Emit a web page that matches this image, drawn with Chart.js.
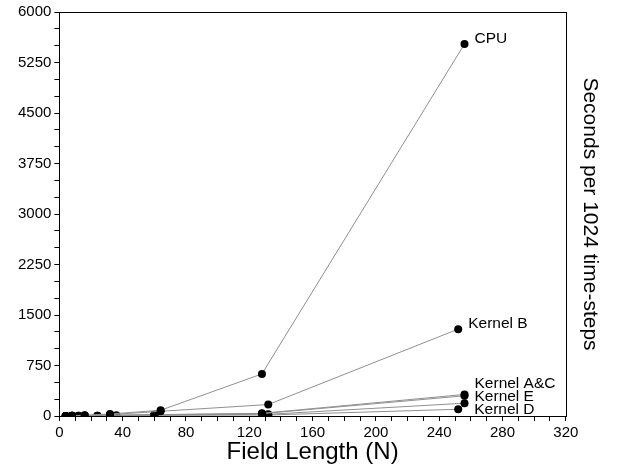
<!DOCTYPE html>
<html>
<head>
<meta charset="utf-8">
<script src="https://cdn.jsdelivr.net/npm/chart.js@4.4.1/dist/chart.umd.min.js"></script>
<style>
  html, body { margin: 0; padding: 0; background: #fff; }
  #wrap { width: 623px; height: 465px; }
</style>
</head>
<body>
<div id="wrap"><canvas id="chart"></canvas></div>
<script>
// Field lengths (N) and seconds per 1024 time-steps
var cpuN = [4, 8, 16, 32, 64, 128, 256];
var cpuSec = [1, 4, 12, 30, 85, 625, 5525];

var kernelBN = [4, 8, 16, 32, 64, 132, 252];
var kernelBSec = [1, 3, 8, 20, 70, 170, 1290];

var kernelAN = [4, 8, 16, 32, 60, 128, 256];
var kernelASec = [1, 2, 5, 10, 20, 40, 320];

var kernelCN = [4, 8, 16, 32, 60, 128, 256];
var kernelCSec = [1, 2, 5, 10, 18, 35, 300];

var kernelEN = [4, 12, 24, 36, 60, 132, 256];
var kernelESec = [1, 2, 4, 8, 15, 25, 190];

var kernelDN = [4, 12, 24, 36, 60, 132, 252];
var kernelDSec = [1, 2, 3, 6, 10, 15, 100];

var seriesNames = ["CPU", "Kernel B", "Kernel A", "Kernel C", "Kernel E", "Kernel D"];
// text written next to the last point of each series ("" = none)
var endLabels = ["CPU", "Kernel B", "Kernel A&C", "", "Kernel E", "Kernel D"];

function pairs(xs, ys) {
  return xs.map(function(x, i) { return { x: x, y: ys[i] }; });
}

var allData = [
  pairs(cpuN, cpuSec),
  pairs(kernelBN, kernelBSec),
  pairs(kernelAN, kernelASec),
  pairs(kernelCN, kernelCSec),
  pairs(kernelEN, kernelESec),
  pairs(kernelDN, kernelDSec)
];

var FONT = "'Liberation Sans', Arial, Helvetica, sans-serif";

// label offsets from the end point, in pixels
var labelOffsets = [[10, -5], [10, -5], [10, -11], [0, 0], [10, -6], [16, 0]];

var endLabelPlugin = {
  id: "endLabels",
  afterDatasetsDraw: function(chart) {
    var ctx = chart.ctx;
    ctx.save();
    ctx.font = "15.5px " + FONT;
    ctx.fillStyle = "#000";
    ctx.textBaseline = "middle";
    ctx.textAlign = "left";
    chart.data.datasets.forEach(function(ds, i) {
      if (!endLabels[i]) return;
      var last = ds.data[ds.data.length - 1];
      var px = chart.scales.x.getPixelForValue(last.x);
      var py = chart.scales.y.getPixelForValue(last.y);
      ctx.fillText(endLabels[i], px + labelOffsets[i][0], py + labelOffsets[i][1]);
    });
    ctx.restore();
  }
};

var framePlugin = {
  id: "frame",
  afterDraw: function(chart) {
    var a = chart.chartArea;
    var ctx = chart.ctx;
    var l = Math.round(a.left) + 0.5, r = Math.round(a.right) + 0.5;
    var t = Math.round(a.top) + 0.5, b = Math.round(a.bottom) + 0.5;
    ctx.save();
    ctx.strokeStyle = "#000";
    ctx.lineWidth = 1;
    ctx.strokeRect(l, t, r - l, b - t);
    ctx.restore();
  }
};

var datasets = allData.map(function(d, i) {
  return {
    label: seriesNames[i],
    data: d,
    borderColor: "#909090",
    borderWidth: 1,
    pointRadius: 4,
    pointBackgroundColor: "#000",
    pointBorderColor: "#000",
    pointBorderWidth: 0,
    showLine: true,
    tension: 0
  };
});

new Chart(document.getElementById("chart"), {
  type: "scatter",
  data: { datasets: datasets },
  options: {
    responsive: true,
    maintainAspectRatio: false,
    animation: false,
    layout: { padding: { left: 15, right: 10, top: 11, bottom: -4 } },
    plugins: {
      legend: { display: false },
      tooltip: { enabled: false }
    },
    scales: {
      x: {
        type: "linear",
        min: 0,
        max: 320,
        border: { display: false },
        grid: {
          drawOnChartArea: false,
          drawTicks: true,
          tickLength: 5,
          tickColor: "#000"
        },
        ticks: {
          stepSize: 10,
          autoSkip: false,
          maxRotation: 0,
          color: "#000",
          padding: 3,
          font: { family: FONT, size: 15 },
          callback: function(v) { return v % 40 === 0 ? String(v) : ""; }
        },
        title: {
          display: true,
          text: "Field Length (N)",
          color: "#000",
          padding: { top: -5, bottom: 5 },
          font: { family: FONT, size: 24, lineHeight: 1 }
        }
      },
      y: {
        type: "linear",
        position: "left",
        min: 0,
        max: 6000,
        border: { display: false },
        grid: {
          drawOnChartArea: false,
          drawTicks: true,
          tickLength: 5,
          tickColor: "#000"
        },
        ticks: {
          stepSize: 250,
          autoSkip: false,
          color: "#000",
          padding: 3,
          font: { family: FONT, size: 15 },
          callback: function(v) { return v % 750 === 0 ? String(v) : ""; }
        }
      },
      yTitle: {
        type: "linear",
        position: "right",
        min: 0,
        max: 6000,
        border: { display: false },
        grid: { display: false, drawTicks: false },
        ticks: { display: false },
        title: {
          display: true,
          text: "Seconds per 1024 time-steps",
          color: "#000",
          padding: 11,
          font: { family: FONT, size: 21 }
        }
      }
    }
  },
  plugins: [endLabelPlugin, framePlugin]
});
</script>
</body>
</html>
